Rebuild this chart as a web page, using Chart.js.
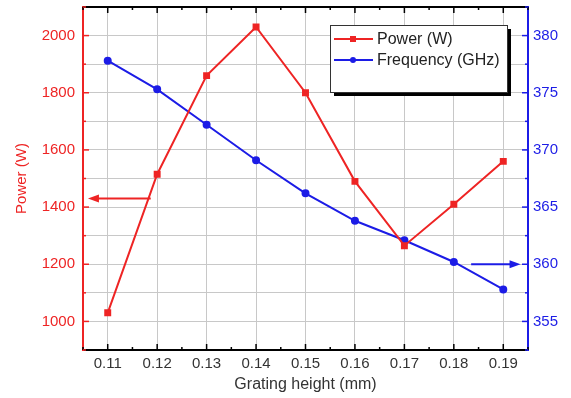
<!DOCTYPE html>
<html lang="en">
<head>
<meta charset="UTF-8">
<title>Power and frequency vs grating height</title>
<script src="https://cdn.jsdelivr.net/npm/chart.js"></script>
<style>
  body { margin: 0; background: #fff; }
  canvas { display: block; }
</style>
</head>
<body>
<canvas id="chart" width="571" height="398"></canvas>
<script>
// data
const heights = [0.11, 0.12, 0.13, 0.14, 0.15, 0.16, 0.17, 0.18, 0.19];
const power = [1030, 1515, 1860, 2030, 1800, 1490, 1265, 1410, 1560];
const frequency = [377.8, 375.3, 372.2, 369.1, 366.2, 363.8, 362.1, 360.2, 357.8];

// arrows pointing at the axis each curve belongs to: [xFrom, xTo, y]
const powerArrow = [0.1187, 0.1060, 1430];
const freqArrow = [0.1835, 0.1935, 360];

const RED = '#ee2424';
const BLUE = '#1c1ce6';
const FONT = 'Liberation Sans, Arial, sans-serif';

const isMajorX = v => Math.round(v * 1000) % 10 === 0;

// fixed axis boxes so the plot area sits where the original does
const fitY = w => s => { s.width = w; s.paddingTop = 0; s.paddingBottom = 0; };

// inward tick marks, top border, arrows, legend
const decor = {
  id: 'decor',
  afterDraw(chart) {
    const { ctx, chartArea: a, scales } = chart;
    ctx.save();
    // top border
    ctx.strokeStyle = '#000';
    ctx.lineWidth = 2;
    ctx.beginPath();
    ctx.moveTo(a.left, a.top);
    ctx.lineTo(a.right, a.top);
    ctx.stroke();

    // x ticks (bottom and top)
    ctx.lineWidth = 1.5;
    scales.x.ticks.forEach(t => {
      const px = scales.x.getPixelForValue(t.value);
      const len = isMajorX(t.value) ? 6 : 3;
      ctx.beginPath();
      ctx.moveTo(px, a.bottom); ctx.lineTo(px, a.bottom - len);
      ctx.moveTo(px, a.top); ctx.lineTo(px, a.top + len);
      ctx.stroke();
    });
    // left ticks
    ctx.strokeStyle = RED;
    scales.y.ticks.forEach(t => {
      const py = scales.y.getPixelForValue(t.value);
      const len = t.value % 200 === 0 ? 6 : 3;
      ctx.beginPath();
      ctx.moveTo(a.left, py); ctx.lineTo(a.left + len, py);
      ctx.stroke();
    });
    // right ticks
    ctx.strokeStyle = BLUE;
    scales.y1.ticks.forEach(t => {
      const py = scales.y1.getPixelForValue(t.value);
      const len = Math.abs(t.value % 5) < 1e-6 ? 6 : 3;
      ctx.beginPath();
      ctx.moveTo(a.right, py); ctx.lineTo(a.right - len, py);
      ctx.stroke();
    });

    // arrows
    const arrow = (x0, x1, py, color) => {
      ctx.strokeStyle = color;
      ctx.fillStyle = color;
      ctx.lineWidth = 2;
      const dir = Math.sign(x1 - x0);
      ctx.beginPath();
      ctx.moveTo(x0, py); ctx.lineTo(x1 - dir * 8, py);
      ctx.stroke();
      ctx.beginPath();
      ctx.moveTo(x1, py);
      ctx.lineTo(x1 - dir * 11, py - 4);
      ctx.lineTo(x1 - dir * 11, py + 4);
      ctx.closePath();
      ctx.fill();
    };
    arrow(scales.x.getPixelForValue(powerArrow[0]), scales.x.getPixelForValue(powerArrow[1]),
      scales.y.getPixelForValue(powerArrow[2]), RED);
    arrow(scales.x.getPixelForValue(freqArrow[0]), scales.x.getPixelForValue(freqArrow[1]),
      scales.y1.getPixelForValue(freqArrow[2]), BLUE);

    // legend box with shadow
    const bx = 330, by = 25, bw = 177, bh = 67;
    ctx.fillStyle = '#000';
    ctx.fillRect(bx + 4, by + 4, bw, bh);
    ctx.fillStyle = '#fff';
    ctx.fillRect(bx, by, bw, bh);
    ctx.strokeStyle = '#333';
    ctx.lineWidth = 1;
    ctx.strokeRect(bx + 0.5, by + 0.5, bw, bh);

    ctx.font = '16px ' + FONT;
    ctx.textBaseline = 'middle';
    chart.data.datasets.forEach((ds, i) => {
      const ly = 39 + i * 21;
      ctx.strokeStyle = ds.borderColor;
      ctx.fillStyle = ds.borderColor;
      ctx.lineWidth = 2;
      ctx.beginPath();
      ctx.moveTo(334, ly); ctx.lineTo(373, ly);
      ctx.stroke();
      if (ds.pointStyle === 'rect') {
        ctx.fillRect(350, ly - 3, 6, 6);
      } else {
        ctx.beginPath(); ctx.arc(353, ly, 3, 0, Math.PI * 2); ctx.fill();
      }
      ctx.fillStyle = '#222';
      ctx.fillText(ds.label, 377, ly + 1);
    });
    ctx.restore();
  }
};

new Chart(document.getElementById('chart'), {
  type: 'line',
  data: {
    datasets: [
      {
        label: 'Power (W)',
        data: heights.map((x, i) => ({ x, y: power[i] })),
        borderColor: RED,
        backgroundColor: RED,
        borderWidth: 2,
        pointStyle: 'rect',
        pointRadius: 3.5,
        yAxisID: 'y'
      },
      {
        label: 'Frequency (GHz)',
        data: heights.map((x, i) => ({ x, y: frequency[i] })),
        borderColor: BLUE,
        backgroundColor: BLUE,
        borderWidth: 2,
        pointStyle: 'circle',
        pointRadius: 3,
        yAxisID: 'y1'
      }
    ]
  },
  options: {
    responsive: false,
    animation: false,
    layout: { padding: { top: 7 } },
    plugins: { legend: { display: false }, tooltip: { enabled: false } },
    scales: {
      x: {
        type: 'linear',
        min: 0.105,
        max: 0.195,
        afterFit: s => { s.height = 48; s.paddingLeft = 0; s.paddingRight = 0; },
        ticks: {
          stepSize: 0.005,
          autoSkip: false,
          maxRotation: 0,
          padding: 5,
          color: '#333',
          font: { family: FONT, size: 15 },
          callback: v => isMajorX(v) ? (Math.round(v * 100) / 100).toFixed(2) : ''
        },
        grid: {
          drawTicks: false,
          color: c => isMajorX(c.tick.value) ? '#c8c8c8' : 'rgba(0,0,0,0)'
        },
        border: { color: '#000', width: 2 },
        title: {
          display: true,
          text: 'Grating height (mm)',
          color: '#333',
          font: { family: FONT, size: 16 },
          padding: { top: 0, bottom: 4 }
        }
      },
      y: {
        position: 'left',
        min: 900,
        max: 2100,
        afterFit: fitY(83),
        ticks: {
          stepSize: 100,
          autoSkip: false,
          padding: 8,
          color: RED,
          font: { family: FONT, size: 15 },
          callback: v => v % 200 === 0 ? v : ''
        },
        grid: { drawTicks: false, color: '#c8c8c8' },
        border: { color: RED, width: 2 },
        title: {
          display: true,
          text: 'Power (W)',
          color: RED,
          font: { family: FONT, size: 15 },
          padding: { top: 13, bottom: 0 }
        }
      },
      y1: {
        position: 'right',
        min: 352.5,
        max: 382.5,
        afterFit: fitY(43),
        ticks: {
          stepSize: 2.5,
          autoSkip: false,
          padding: 5,
          color: BLUE,
          font: { family: FONT, size: 15 },
          callback: v => Math.abs(v % 5) < 1e-6 ? v : ''
        },
        grid: { drawTicks: false, drawOnChartArea: false },
        border: { color: BLUE, width: 2 }
      }
    }
  },
  plugins: [decor]
});
</script>
</body>
</html>
